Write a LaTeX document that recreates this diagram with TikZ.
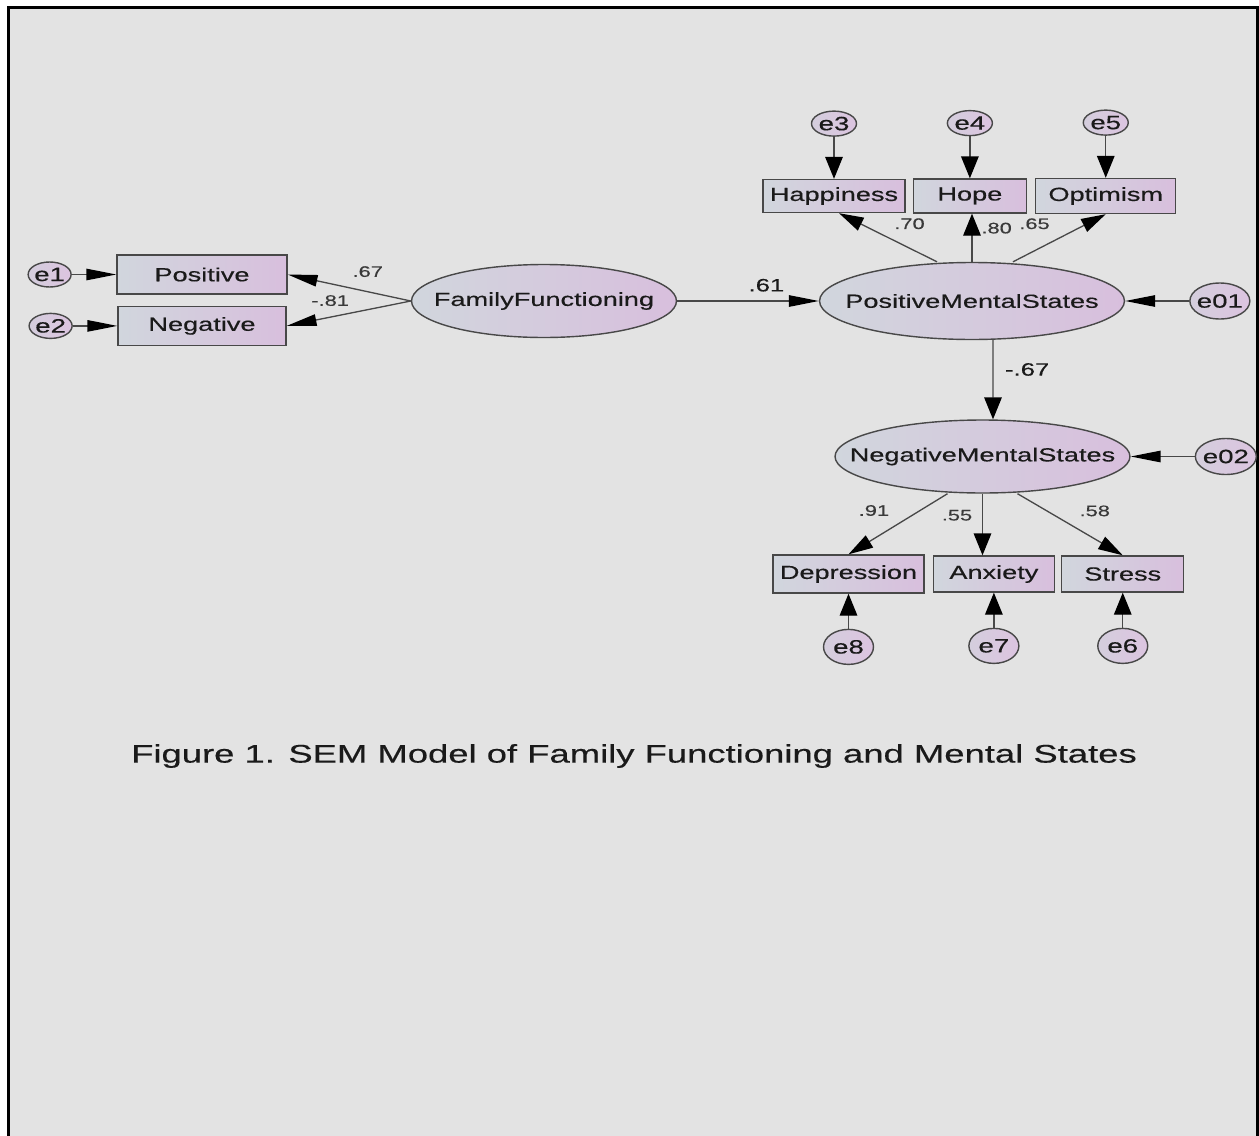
\documentclass[tikz,border=0pt]{standalone}
\usepackage{fontspec}
\setmainfont{Liberation Sans}[FakeStretch=1.43, FakeBold=0.4]
\usepackage{tikz}
\usetikzlibrary{arrows.meta, positioning, shapes.geometric}

\definecolor{bgray}{HTML}{E3E3E3}
\definecolor{boxl}{HTML}{D1D6DD}
\definecolor{boxr}{HTML}{D8BFDD}
\definecolor{errl}{HTML}{D4CEDD}
\definecolor{errr}{HTML}{DCC4E0}
\definecolor{edgec}{HTML}{484848}
\definecolor{inkc}{HTML}{1A1A1A}
\definecolor{coefc}{HTML}{3A3A3A}

% text inside an ellipse must not widen it
\newcommand{\inel}[1]{\makebox[0pt]{#1}}

\begin{document}
\begin{tikzpicture}[x=0.02cm, y=-0.02cm, text=inkc,
  obs/.style={draw=edgec, line width=0.8pt, rectangle, left color=boxl, right color=boxr, minimum height=0.78cm, inner sep=0pt, font=\fontsize{10.8}{12}\selectfont},
  latent/.style={draw=edgec, line width=0.8pt, ellipse, left color=boxl, right color=boxr, minimum height=1.5cm, inner sep=0pt, font=\fontsize{10.8}{12}\selectfont},
  err/.style={draw=edgec, line width=0.8pt, ellipse, left color=errl, right color=errr, inner sep=0pt, font=\fontsize{11}{12}\selectfont},
  link/.style={draw=edgec, line width=0.75pt},
  hlink/.style={link, -{Triangle[length=17pt, width=6.5pt, color=black]}},
  vlink/.style={link, -{Triangle[length=12.5pt, width=10pt, color=black]}},
  dlink/.style={link, -{Triangle[length=14pt, width=8pt, color=black]}},
  coef/.style={inner sep=1pt, text=coefc, font=\fontsize{8.7}{10}\selectfont},
  bigcoef/.style={inner sep=1pt, font=\fontsize{10.2}{12}\selectfont}]
    % Page and frame
    \useasboundingbox (0,0) rectangle (1259,1136);
    \fill[white] (0,0) rectangle (1259,1136);
    \fill[bgray] (8,8) rectangle (1257,1136);
    \draw[line width=1.7pt] (8.5,1136) -- (8.5,7.5) -- (1257.5,7.5) -- (1257.5,1136);

    % Family functioning
    \node[latent, minimum width=5.3cm, minimum height=1.46cm] (ff) at (544,301) {\inel{FamilyFunctioning}};
    \node[obs, minimum width=3.4cm] (pos) at (202,274.5) {Positive};
    \node[obs, minimum width=3.36cm, below=0.22cm of pos] (neg) {Negative};
    \node[err, minimum width=0.86cm, minimum height=0.5cm, left=0.89cm of pos] (e1) {\inel{e1}};
    \node[err, minimum width=0.86cm, minimum height=0.5cm, left=0.89cm of neg] (e2) {\inel{e2}};
    \draw[hlink] (e1) -- (pos);
    \draw[hlink] (e2) -- (neg);
    \draw[hlink] (ff.west) -- (pos.east) node[coef, pos=0.35, above=7pt] {.67};
    \draw[hlink] (ff.west) -- (neg.east) node[coef, pos=0.65, above=5pt] {-.81};

    % Positive mental states
    \node[latent, minimum width=6.1cm, minimum height=1.54cm] (pms) at (972,301) {\inel{PositiveMentalStates}};
    \node[obs, minimum width=2.84cm, minimum height=0.66cm] (hap) at (834,196) {Happiness};
    \node[obs, minimum width=2.26cm, minimum height=0.68cm, right=0.14cm of hap] (hope) {Hope};
    \node[obs, minimum width=2.8cm, minimum height=0.7cm, right=0.16cm of hope] (opt) {Optimism};
    \node[err, minimum width=0.9cm, minimum height=0.5cm, above=0.84cm of hap] (e3) {\inel{e3}};
    \node[err, minimum width=0.9cm, minimum height=0.5cm, above=0.84cm of hope] (e4) {\inel{e4}};
    \node[err, minimum width=0.9cm, minimum height=0.5cm, above=0.84cm of opt] (e5) {\inel{e5}};
    \node[err, minimum width=1.2cm, minimum height=0.72cm, right=1.28cm of pms] (e01) {\inel{e01}};
    \draw[vlink] (e3) -- (hap);
    \draw[vlink] (e4) -- (hope);
    \draw[vlink] (e5) -- (opt);
    \draw[hlink] (ff) -- (pms) node[bigcoef, pos=0.63, above=4pt] {.61};
    \draw[hlink] (e01) -- (pms);
    \draw[dlink] ([xshift=-0.7cm]pms.north) -- ([xshift=0.1cm]hap.south) node[coef, pos=0.55, above right=2pt and 5pt] {.70};
    \draw[vlink] (pms.north) -- (pms.north |- hope.south) node[coef, pos=0.7, right=4pt] {.80};
    \draw[dlink] ([xshift=0.82cm]pms.north) -- (opt.south) node[coef, pos=0.45, above left=5pt and 1.5pt] {.65};

    % Negative mental states
    \node[latent, minimum width=5.9cm, minimum height=1.46cm] (nms) at (982.5,456.5) {\inel{NegativeMentalStates}};
    \node[obs, minimum width=3.02cm, minimum height=0.76cm] (dep) at (848.5,574) {Depression};
    \node[obs, minimum width=2.42cm, minimum height=0.72cm, right=0.16cm of dep] (anx) {Anxiety};
    \node[obs, minimum width=2.44cm, minimum height=0.72cm, right=0.12cm of anx] (str) {Stress};
    \node[err, minimum width=1.0cm, minimum height=0.7cm, below=0.7cm of dep] (e8) {\inel{e8}};
    \node[err, minimum width=1.0cm, minimum height=0.7cm, below=0.7cm of anx] (e7) {\inel{e7}};
    \node[err, minimum width=1.0cm, minimum height=0.7cm, below=0.7cm of str] (e6) {\inel{e6}};
    \node[err, minimum width=1.22cm, minimum height=0.72cm, right=1.28cm of nms] (e02) {\inel{e02}};
    \draw[vlink] ([xshift=0.42cm]pms.south) -- ([xshift=0.21cm]nms.north) node[bigcoef, pos=0.37, right=5.5pt] {-.67};
    \draw[hlink] (e02) -- (nms);
    \draw[dlink] ([xshift=-0.7cm]nms.south) -- (dep.north) node[coef, pos=0.45, above left=1.5pt and 6.5pt] {.91};
    \draw[vlink] (nms.south) -- (nms.south |- anx.north) node[coef, pos=0.35, left=4.5pt] {.55};
    \draw[dlink] ([xshift=0.7cm]nms.south) -- (str.north) node[coef, pos=0.5, above right=3.3pt and 4pt] {.58};
    \draw[vlink] (e8) -- (dep);
    \draw[vlink] (e7) -- (anx);
    \draw[vlink] (e6) -- (str);

    % Caption
    \node[font=\fontsize{14.5}{17}\selectfont] (cap) at (634,756) {Figure 1. SEM Model of Family Functioning and Mental States};
\end{tikzpicture}
\end{document}
